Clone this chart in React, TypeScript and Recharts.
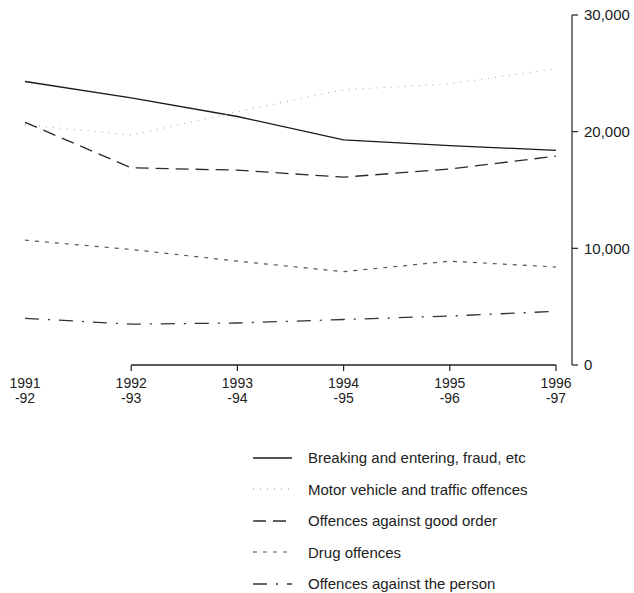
import React from 'react';
import { LineChart, Line, XAxis, YAxis, ReferenceLine } from 'recharts';

const years = ['1991|-92', '1992|-93', '1993|-94', '1994|-95', '1995|-96', '1996|-97'];
const breaking = [24300, 22900, 21300, 19300, 18800, 18400];
const motor = [20600, 19700, 21700, 23600, 24100, 25400];
const goodOrder = [20800, 16900, 16700, 16100, 16800, 17900];
const drug = [10700, 9900, 8900, 8000, 8900, 8400];
const person = [4000, 3500, 3600, 3900, 4200, 4600];
const yTicks = [0, 10000, 20000, 30000];

const series = [
  { key: 'breaking', name: 'Breaking and entering, fraud, etc', values: breaking, color: '#1a1a1a', dash: undefined, width: 1.3 },
  { key: 'motor', name: 'Motor vehicle and traffic offences', values: motor, color: '#b5b5b5', dash: '1 6', width: 1.3 },
  { key: 'goodOrder', name: 'Offences against good order', values: goodOrder, color: '#2a2a2a', dash: '13 7', width: 1.3 },
  { key: 'drug', name: 'Drug offences', values: drug, color: '#555', dash: '4 6', width: 1.2 },
  { key: 'person', name: 'Offences against the person', values: person, color: '#333', dash: '14 9 2 9', width: 1.3 },
];

const data = years.map((y, i) => {
  const row: Record<string, string | number> = { year: y };
  series.forEach((s) => {
    row[s.key] = s.values[i];
  });
  return row;
});

const font = '"Liberation Sans", Arial, sans-serif';

function YearTick(props: any) {
  const { x, y, payload, index } = props;
  const [a, b] = String(payload.value).split('|');
  return (
    <g>
      {index > 0 && <line x1={x} y1={y - 8} x2={x} y2={y - 2} stroke="#222" strokeWidth={1.2} />}
      <text x={x} y={y + 15} textAnchor="middle" fontSize={14} fill="#222" fontFamily={font}>
        {a}
      </text>
      <text x={x} y={y + 30} textAnchor="middle" fontSize={14} fill="#222" fontFamily={font}>
        {b}
      </text>
    </g>
  );
}

export default function App() {
  return (
    <div style={{ position: 'absolute', left: 0, top: 0, width: 634, height: 593, background: '#fff', fontFamily: font, overflow: 'hidden' }}>
      <LineChart
        width={634}
        height={420}
        data={data}
        margin={{ top: 15, right: 0, left: 25, bottom: 0 }}
      >
        <XAxis
          dataKey="year"
          axisLine={false}
          tickLine={false}
          tick={<YearTick />}
          padding={{ left: 0, right: 16 }}
          height={55}
          interval={0}
        />
        <YAxis
          orientation="right"
          domain={[0, 30000]}
          ticks={yTicks}
          width={62}
          axisLine={{ stroke: '#222', strokeWidth: 1.2 }}
          tickLine={{ stroke: '#222', strokeWidth: 1.2 }}
          tickSize={6}
          tickMargin={6}
          tickFormatter={(v: number) => v.toLocaleString('en-US')}
          tick={{ fontSize: 15, fill: '#1a1a1a', fontFamily: font }}
        />
        <ReferenceLine
          segment={[
            { x: years[1], y: 0 },
            { x: years[5], y: 0 },
          ]}
          stroke="#222"
          strokeWidth={1.5}
          ifOverflow="visible"
        />
        {series.map((s) => (
          <Line
            key={s.key}
            type="linear"
            dataKey={s.key}
            name={s.name}
            stroke={s.color}
            strokeWidth={s.width}
            strokeDasharray={s.dash}
            dot={false}
            isAnimationActive={false}
          />
        ))}
      </LineChart>
      <div style={{ position: 'absolute', left: 250, top: 442 }}>
        {series.map((s) => (
          <div key={s.key} style={{ display: 'flex', alignItems: 'center', height: 31.5 }}>
            <svg width={46} height={10}>
              <line x1={3} y1={5} x2={42} y2={5} stroke={s.color} strokeWidth={s.width} strokeDasharray={s.dash} />
            </svg>
            <span style={{ marginLeft: 12, fontSize: 15, lineHeight: '17px', color: '#222' }}>{s.name}</span>
          </div>
        ))}
      </div>
    </div>
  );
}
